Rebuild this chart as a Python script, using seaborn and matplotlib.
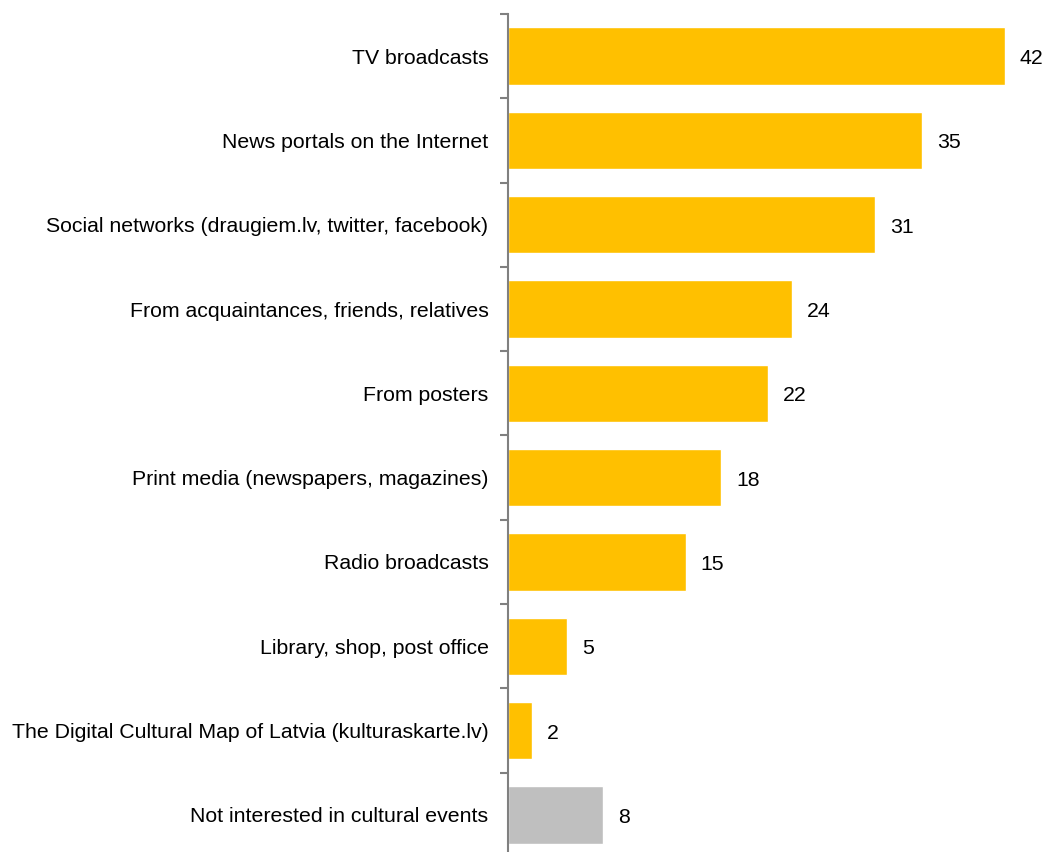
import numpy as np
import pandas as pd
import matplotlib
matplotlib.use("Agg")
import matplotlib.pyplot as plt
import seaborn as sns

# Where people learn about cultural events (% of respondents)
categories = [
    "TV broadcasts",
    "News portals on the Internet",
    "Social networks (draugiem.lv, twitter, facebook)",
    "From acquaintances, friends, relatives",
    "From posters",
    "Print media (newspapers, magazines)",
    "Radio broadcasts",
    "Library, shop, post office",
    "The Digital Cultural Map of Latvia (kulturaskarte.lv)",
    "Not interested in cultural events",
]
values = [42, 35, 31, 24, 22, 18, 15, 5, 2, 8]
groups = ["source"] * 9 + ["none"]

df = pd.DataFrame({"category": categories, "value": values, "group": groups})

sns.set_theme(style="white")
plt.rcParams["font.family"] = ["Liberation Sans", "DejaVu Sans"]

W, H = 1047, 852
fig = plt.figure(figsize=(W / 100, H / 100), dpi=100)
ax_left = 508 / W
ax_top = 14 / H
ax = fig.add_axes([ax_left, 0, 1 - ax_left, 1 - ax_top])

sns.barplot(data=df, y="category", x="value", hue="group",
            palette={"source": "#FFC000", "none": "#BFBFBF"},
            width=0.68, dodge=False, legend=False, saturation=1, ax=ax)

px_per_unit = (1005 - 508) / 42
ax.set_xlim(0, (W - 508) / px_per_unit)
ax.set_ylim(9.5 - 5 / 84.3, -0.5)

# value labels just right of each bar
for i, v in enumerate(values):
    ax.text(v + 15 / px_per_unit, i + 0.03, str(v), va="center", ha="left",
            fontsize=15.3, color="black")

ax.set_xlabel("")
ax.set_ylabel("")
ax.set_xticks([])
ax.tick_params(axis="y", which="major", length=0, pad=14, labelsize=15.3,
               labelcolor="black")
ax.set_yticks(np.arange(-0.5, 9, 1), minor=True)
ax.tick_params(axis="y", which="minor", left=True, length=6, width=1.5,
               color="#808080")
for side in ["top", "right", "bottom"]:
    ax.spines[side].set_visible(False)
ax.spines["left"].set_color("#808080")
ax.spines["left"].set_linewidth(1.5)

fig.savefig("out.png", dpi=100)
